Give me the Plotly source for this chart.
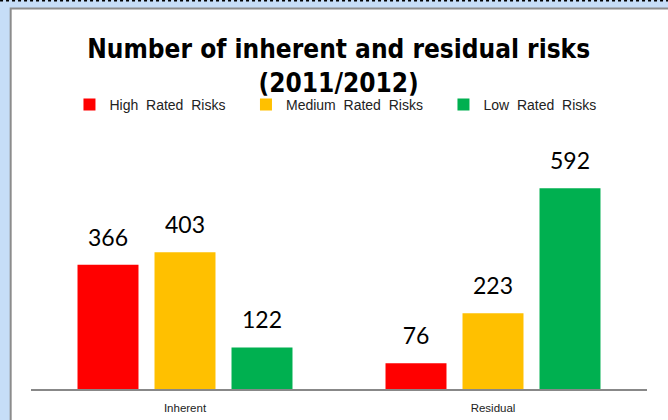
import plotly.graph_objects as go

categories = ["Inherent", "Residual"]
series_names = ["High\u00a0\u00a0Rated\u00a0\u00a0Risks",
                "Medium\u00a0\u00a0Rated\u00a0\u00a0Risks",
                "Low\u00a0\u00a0Rated\u00a0\u00a0Risks"]
high_values = [366, 76]
medium_values = [403, 223]
low_values = [122, 592]
colors = ["#FF0000", "#FFC000", "#00B050"]
title_text = "Number of inherent and residual risks<br>(2011/2012)"

pad = "\u00a0" * 4
fig = go.Figure()
for i, (name, vals, col) in enumerate(zip(series_names, [high_values, medium_values, low_values], colors)):
    fig.add_trace(go.Bar(
        x=categories, y=vals, name=name + pad,
        marker=dict(color=col, line=dict(width=0)),
        offsetgroup=str(i),
    ))
for i, vals in enumerate([high_values, medium_values, low_values]):
    fig.add_trace(go.Scatter(
        x=categories, y=vals, mode="markers+text",
        text=[str(v) for v in vals], textposition="top center",
        marker=dict(size=20, color="rgba(0,0,0,0)"),
        textfont=dict(family="Lato, Open Sans, sans-serif", size=23, color="#000000"),
        offsetgroup=str(i), showlegend=False, cliponaxis=False, hoverinfo="skip",
    ))

fig.update_layout(
    width=668, height=420,
    margin=dict(l=31, r=21, t=150, b=31, autoexpand=False),
    paper_bgcolor="#C6DDF7",
    plot_bgcolor="rgba(0,0,0,0)",
    barmode="group", bargap=0.25, bargroupgap=0.208,
    scattermode="group", scattergap=0.25,
    title=dict(text=title_text, x=0.507, xanchor="center", y=0.862, yanchor="middle",
               font=dict(family="DejaVu Sans Condensed, DejaVu Sans, sans-serif", size=26,
                         color="#000000", weight="bold")),
    showlegend=True,
    legend=dict(orientation="h", xref="container", yref="container", x=0.104, y=0.75,
                xanchor="left", yanchor="middle",
                font=dict(family="Liberation Sans, Arial, sans-serif", size=14, color="#222222"),
                bgcolor="rgba(0,0,0,0)", traceorder="normal"),
    xaxis=dict(showline=True, linecolor="#888888", linewidth=2, ticks="",
               tickfont=dict(family="Liberation Sans, Arial, sans-serif", size=11.5, color="#222222"),
               ticklabelstandoff=7, automargin=False,
               showgrid=False, zeroline=False),
    yaxis=dict(range=[0, 704.5], visible=False, showgrid=False, zeroline=False, automargin=False),
    shapes=[
        dict(type="rect", xref="paper", yref="paper", x0=-0.033, x1=1.2, y0=-0.3, y1=1.592,
             fillcolor="#FFFFFF", line=dict(color="#8C8C8C", width=2), layer="below"),
        dict(type="line", xref="paper", yref="paper", x0=-0.06, x1=1.04, y0=1.626, y1=1.626,
             line=dict(color="#000000", width=2, dash="dot")),
    ],
)

fig.write_html("out.html")
